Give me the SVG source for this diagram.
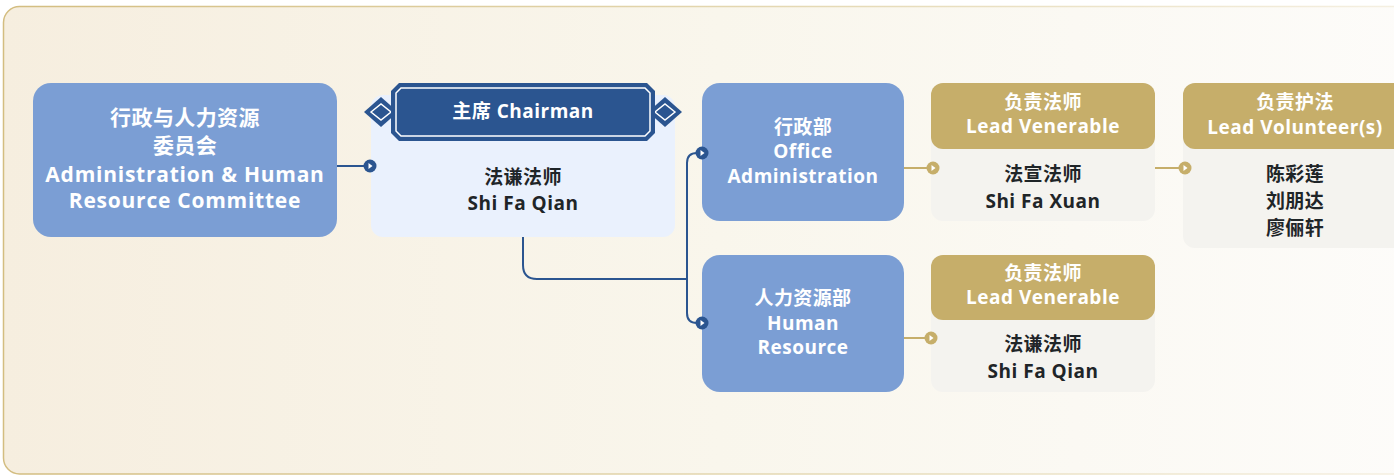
<svg xmlns="http://www.w3.org/2000/svg" width="1394" height="475" viewBox="0 0 1394 475">
<defs>
<linearGradient id="bg" x1="0" y1="0" x2="1" y2="0">
<stop offset="0" stop-color="#F6EEDF"/>
<stop offset="0.5" stop-color="#F9F6EC"/>
<stop offset="1" stop-color="#FDFCFA"/>
</linearGradient>
<linearGradient id="bd" x1="0" y1="0" x2="1" y2="0">
<stop offset="0" stop-color="#D3BD80"/>
<stop offset="0.6" stop-color="#E6DBB8"/>
<stop offset="1" stop-color="#F6F1E4"/>
</linearGradient>
<symbol id="mk" viewBox="-7 -7 14 14" overflow="visible">
<polygon points="-1.5,-3 2.5,0 -1.5,3" fill="#FFFFFF"/>
</symbol>
</defs>
<style>
.en{font-family:"Open Sans","Noto Sans CJK SC",sans-serif;font-weight:700;text-anchor:middle;font-size:19px;letter-spacing:0.5px}
.big{font-size:21px;letter-spacing:0.75px}
.cn{font-family:"Noto Sans CJK SC","Noto Sans",sans-serif;font-weight:700;text-anchor:middle;font-size:19px;letter-spacing:0.4px}
.cbig{font-size:21px}
.w{fill:#FFFFFF}
.d{fill:#1F2528}
.blue{fill:#7B9ED4}
.gold{fill:#C6AE6A}
.card{fill:#F4F3EF}
.ln{fill:none;stroke-width:2}
.lb{stroke:#2B5590}
.lg{stroke:#C6AE6A}
</style>
<rect x="0" y="0" width="1394" height="475" fill="#FFFFFF"/>
<rect x="3.5" y="6.5" width="1430" height="467.5" rx="16" fill="url(#bg)" stroke="url(#bd)" stroke-width="1.5"/>

<g id="committee">
<rect class="blue" x="33" y="83" width="304" height="154" rx="18"/>
<text class="cn cbig w" x="185" y="125">行政与人力资源</text>
<text class="cn cbig w" x="185" y="153">委员会</text>
<text class="en big w" x="185" y="182">Administration &amp; Human</text>
<text class="en big w" x="185" y="208">Resource Committee</text>
</g>

<g id="chairman">
<rect x="371" y="95" width="304" height="142" rx="12" fill="#EAF1FD"/>
<polygon points="364,112 381,97 398,112 381,127" fill="#2B5590"/>
<polygon points="371,112 381,104 391,112 381,120" fill="#2B5590" stroke="#FFFFFF" stroke-width="1.5"/>
<polygon points="682,112 665,97 648,112 665,127" fill="#2B5590"/>
<polygon points="675,112 665,104 655,112 665,120" fill="#2B5590" stroke="#FFFFFF" stroke-width="1.5"/>
<polygon points="399,83 647,83 655,91 655,133 647,141 399,141 391,133 391,91" fill="#2B5590"/>
<polygon points="401,88 645,88 650,93 650,131 645,136 401,136 396,131 396,93" fill="none" stroke="#FFFFFF" stroke-width="1.5"/>
<text class="en w" x="523" y="118">主席 Chairman</text>
<text class="cn d" x="523" y="184">法谦法师</text>
<text class="en d" x="523" y="210">Shi Fa Qian</text>
</g>

<g id="office">
<rect class="blue" x="702" y="83" width="202" height="138" rx="18"/>
<text class="cn w" x="803" y="134">行政部</text>
<text class="en w" x="803" y="158">Office</text>
<text class="en w" x="803" y="183">Administration</text>
</g>

<g id="lead-venerable-1">
<rect class="card" x="931" y="83" width="224" height="138" rx="12"/>
<rect class="gold" x="931" y="83" width="224" height="66" rx="12"/>
<text class="cn w" x="1043" y="109">负责法师</text>
<text class="en w" x="1043" y="133">Lead Venerable</text>
<text class="cn d" x="1043" y="181">法宣法师</text>
<text class="en d" x="1043" y="208">Shi Fa Xuan</text>
</g>

<g id="lead-volunteer">
<rect class="card" x="1183" y="83" width="224" height="165" rx="12"/>
<rect class="gold" x="1183" y="83" width="224" height="66" rx="12"/>
<text class="cn w" x="1295" y="109">负责护法</text>
<text class="en w" x="1295" y="134">Lead Volunteer(s)</text>
<text class="cn d" x="1295" y="181">陈彩莲</text>
<text class="cn d" x="1295" y="208">刘朋达</text>
<text class="cn d" x="1295" y="235">廖俪轩</text>
</g>

<g id="human-resource">
<rect class="blue" x="702" y="255" width="202" height="137" rx="18"/>
<text class="cn w" x="803" y="305">人力资源部</text>
<text class="en w" x="803" y="330">Human</text>
<text class="en w" x="803" y="354">Resource</text>
</g>

<g id="lead-venerable-2">
<rect class="card" x="931" y="255" width="224" height="137" rx="12"/>
<rect class="gold" x="931" y="255" width="224" height="65" rx="12"/>
<text class="cn w" x="1043" y="280">负责法师</text>
<text class="en w" x="1043" y="304">Lead Venerable</text>
<text class="cn d" x="1043" y="351">法谦法师</text>
<text class="en d" x="1043" y="378">Shi Fa Qian</text>
</g>

<g id="connectors">
<path class="ln lb" d="M337,166 H364"/>
<path class="ln lb" d="M523,237 V265 Q523,279 537,279 H687"/>
<path class="ln lb" d="M687,279 V163 Q687,153 697,153"/>
<path class="ln lb" d="M687,279 V313 Q687,323 697,323"/>
<path class="ln lg" d="M904,168 H927"/>
<path class="ln lg" d="M1155,168 H1180"/>
<path class="ln lg" d="M904,338 H925"/>
<circle cx="370" cy="166" r="6.5" fill="#2B5590"/>
<use href="#mk" x="363" y="159" width="14" height="14"/>
<circle cx="702" cy="153" r="6.5" fill="#2B5590"/>
<use href="#mk" x="695" y="146" width="14" height="14"/>
<circle cx="702" cy="323" r="6.5" fill="#2B5590"/>
<use href="#mk" x="695" y="316" width="14" height="14"/>
<circle cx="933" cy="168" r="6.5" fill="#C6AE6A"/>
<use href="#mk" x="926" y="161" width="14" height="14"/>
<circle cx="1185" cy="168" r="6.5" fill="#C6AE6A"/>
<use href="#mk" x="1178" y="161" width="14" height="14"/>
<circle cx="931" cy="338" r="6.5" fill="#C6AE6A"/>
<use href="#mk" x="924" y="331" width="14" height="14"/>
</g>
</svg>
